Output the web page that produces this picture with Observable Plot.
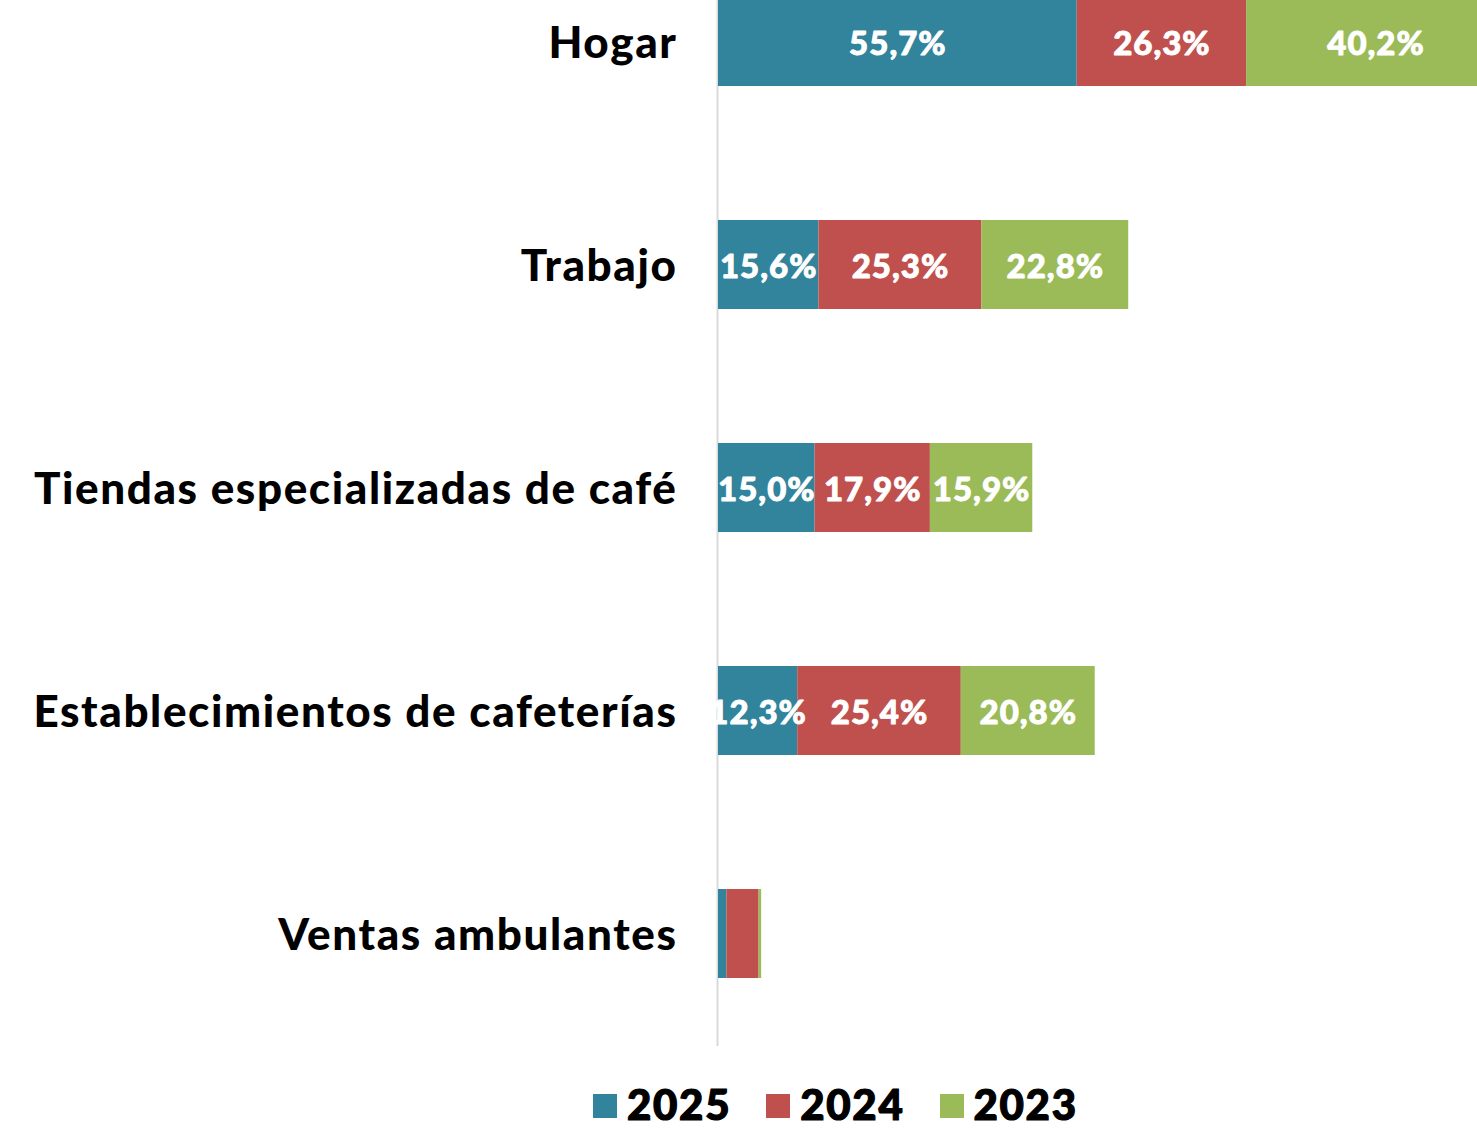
<!DOCTYPE html>
<html><head><meta charset="utf-8">
<script src="https://cdn.jsdelivr.net/npm/d3@7"></script>
<script src="https://cdn.jsdelivr.net/npm/@observablehq/plot@0.6"></script>
<style>
html,body{margin:0;padding:0;background:#fff;overflow:hidden;}
#chart{width:1477px;overflow:hidden;}
#legend{display:flex;justify-content:flex-start;align-items:center;margin-top:32px;margin-left:593px;height:40px;line-height:40px;font-family:Lato,"DejaVu Sans",sans-serif;font-weight:900;font-size:42px;letter-spacing:1.7px;color:#000;-webkit-text-stroke:1.2px #000;}
.item{display:flex;align-items:center;margin-right:35px;}
.sw{width:24px;height:24px;margin-right:10px;margin-top:4px;}
</style></head>
<body>
<div id="chart"></div>
<div id="legend"></div>
<script>
const categories = ["Hogar","Trabajo","Tiendas especializadas de café","Establecimientos de cafeterías","Ventas ambulantes"];
const years = ["2025","2024","2023"];
const colors = ["#31849b","#c0504d","#9bbb59"];
const v2025 = [55.7, 15.6, 15.0, 12.3, 1.3];
const v2024 = [26.3, 25.3, 17.9, 25.4, 5.0];
const v2023 = [40.2, 22.8, 15.9, 20.8, 0.4];
const showLabel = [true, true, true, true, false];

const series = [v2025, v2024, v2023];
const data = [];
categories.forEach((c, i) => {
  years.forEach((y, j) => {
    data.push({category: c, year: y, value: series[j][i], label: showLabel[i]});
  });
});
const fmt = v => d3.format(".1f")(v).replace(".", ",") + "%";

const plot = Plot.plot({
  width: 1477,
  height: 1052,
  marginLeft: 718,
  marginRight: 0,
  marginTop: 0,
  marginBottom: 6,
  style: {fontFamily: "Lato, 'DejaVu Sans', sans-serif", fontWeight: 900, background: "#fff"},
  x: {domain: [0, 117.86], axis: null},
  y: {domain: categories, range: [-71.5, 1046.5], paddingInner: 0.6, paddingOuter: 0.3, label: null},
  color: {domain: years, range: colors},
  marks: [
    Plot.ruleX([0], {stroke: "#d9d9d9", strokeWidth: 2, dx: -1}),
    Plot.barX(data, Plot.stackX({x: "value", y: "category", fill: "year", order: years, clip: true})),
    Plot.text(data.filter(d => d.label), Plot.stackX({x: "value", y: "category", z: "year", order: years, text: d => fmt(d.value), fill: "white", stroke: "white", strokeWidth: 0.9, fontSize: 33, fontWeight: 900, dy: 2})),
    Plot.axisY({tickSize: 0, tickPadding: 41, fontSize: 44, fontWeight: 900, fill: "#000", stroke: "#000", strokeWidth: 1.3, dy: 2})
  ]
});
plot.querySelectorAll("[aria-label='y-axis tick label'] text").forEach(t => t.setAttribute("letter-spacing", "1.6"));
plot.querySelectorAll("g[aria-label='text'] text").forEach(t => t.setAttribute("letter-spacing", "1"));
document.getElementById("chart").appendChild(plot);

const leg = document.getElementById("legend");
years.forEach((y, j) => {
  const it = document.createElement("div");
  it.className = "item";
  const sw = document.createElement("div");
  sw.className = "sw";
  sw.style.background = colors[j];
  const t = document.createElement("span");
  t.textContent = y;
  it.appendChild(sw); it.appendChild(t);
  leg.appendChild(it);
});
</script>
</body></html>
